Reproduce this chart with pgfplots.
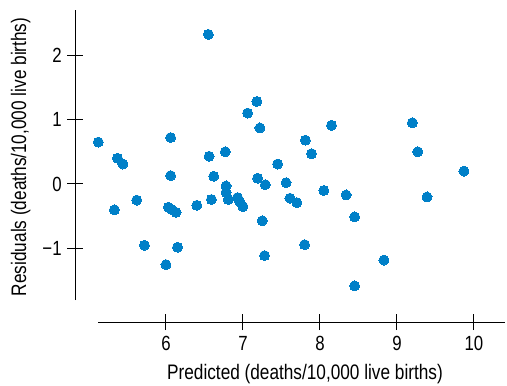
\documentclass[border=0pt]{standalone}
\usepackage{fontspec}
\setmainfont[FakeStretch=0.82]{Liberation Sans}
\usepackage{pgfplots}
\pgfplotsset{compat=1.18}
\definecolor{dot}{RGB}{0,128,200}
\begin{document}
\begin{tikzpicture}
\begin{axis}[
  x=77pt, y=64.5pt,
  xmin=4.82, xmax=10.40, ymin=-2.14, ymax=2.70,
  axis line style={draw=none},
  xtick pos=bottom, ytick pos=left,
  clip=false,
  xtick={6,7,8,9,10}, ytick={-1,0,1,2},
  xticklabels={6,7,8,9,10},
  yticklabels={−1,0,1,2},
  tick align=center, major tick length=16pt,
  tick style={black, line width=1pt},
  ticklabel style={font=\fontsize{20.5}{22}\selectfont},
  xticklabel style={yshift=-3pt},
  yticklabel style={xshift=-2pt},
  /pgf/number format/assume math mode=true,
  xlabel={Predicted (deaths/10,000 live births)},
  ylabel={Residuals (deaths/10,000 live births)},
  label style={font=\fontsize{21}{23}\selectfont},
  xlabel style={at={(axis description cs:0.535,-0.1665)}, anchor=center},
  ylabel style={at={(axis description cs:-0.127,0.529)}, anchor=center, rotate=0},
]
\addplot[only marks, mark=*, mark size=5pt, color=dot, mark options={draw=dot, fill=dot, line width=0pt}] coordinates {
(5.12,0.65) (5.37,0.40) (5.44,0.31) (6.06,0.72) (6.55,2.32) (6.56,0.43)
(6.77,0.50) (7.06,1.10) (7.18,1.28) (7.22,0.87) (7.45,0.31) (6.06,0.13)
(6.62,0.12) (7.19,0.09) (8.15,0.91) (7.81,0.68) (7.89,0.47) (9.20,0.95)
(9.27,0.50) (9.87,0.20) (6.78,-0.03) (6.78,-0.13) (6.81,-0.24) (6.93,-0.21)
(6.96,-0.28) (7.00,-0.35) (7.29,-0.01) (5.33,-0.40) (5.62,-0.25) (6.03,-0.36)
(6.08,-0.40) (6.13,-0.44) (6.40,-0.33) (6.59,-0.24) (7.25,-0.57) (5.72,-0.95)
(6.15,-0.98) (6.00,-1.25) (7.28,-1.11) (7.56,0.02) (8.05,-0.10) (8.34,-0.17)
(7.61,-0.22) (7.70,-0.29) (9.39,-0.20) (8.45,-0.51) (7.80,-0.94) (8.83,-1.18)
(8.45,-1.58)
};
\draw[line width=1pt] (axis cs:4.82,-1.80) -- (axis cs:4.82,2.70);
\draw[line width=1pt] (axis cs:5.12,-2.14) -- (axis cs:10.40,-2.14);
\coordinate (bl) at (axis cs:3.844,-3.132);
\coordinate (tr) at (axis cs:10.429,2.853);
\end{axis}
\pgfresetboundingbox
\path[use as bounding box] (bl) rectangle (tr);
\end{tikzpicture}
\end{document}
